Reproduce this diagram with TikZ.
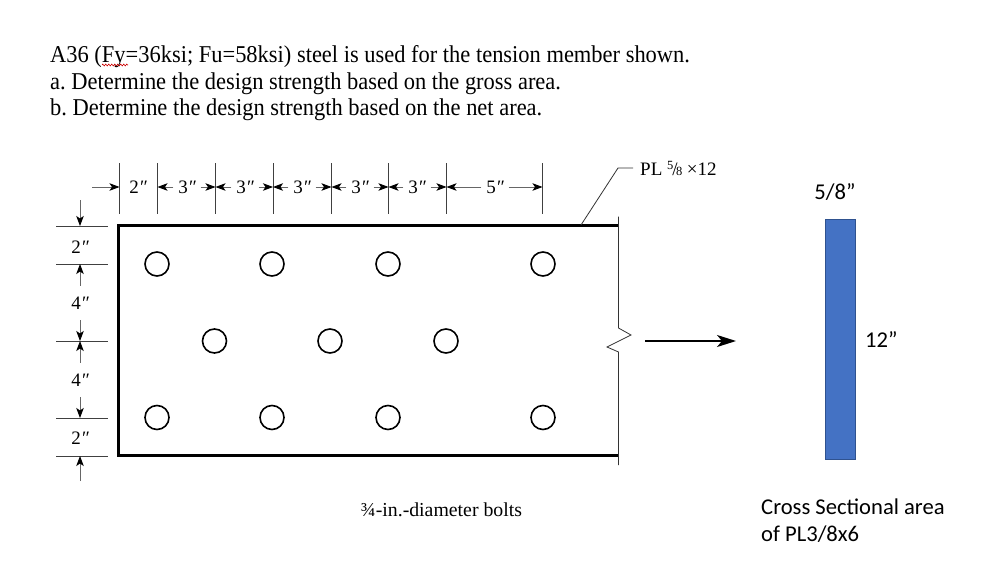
\documentclass[tikz,border=0pt]{standalone}
\usepackage{fontspec}
\usepackage{tikz}
\usetikzlibrary{arrows.meta,decorations.pathmorphing}
\setmainfont{Liberation Serif}
\newfontfamily\slidefont{Carlito}
\newfontfamily\titlefont[FakeStretch=0.93]{Liberation Serif}
\newcommand{\dprime}{{\itshape ″}}
\newcommand{\smallfrac}[2]{\raisebox{5.5pt}{\fontsize{12.5}{13}\selectfont #1}\kern-1pt/\kern-1.5pt{\fontsize{12.5}{13}\selectfont #2}}
\tikzset{
  dimline/.style={line width=0.9pt,black!75},
  dimarrow/.style={line width=0.9pt,black!60,-{Stealth[black,length=10pt,width=7.5pt,inset=2.5pt]}},
  hole/.style={draw,circle,line width=1.6pt,minimum size=24pt,inner sep=0pt},
  dimlabel/.style={inner sep=0pt,minimum width=27pt,minimum height=34pt,font=\fontsize{19}{20}\selectfont},
  titleline/.style={anchor=base west,inner sep=0pt,font=\titlefont\fontsize{24.15}{26}\selectfont},
  slidetext/.style={inner sep=0pt,font=\slidefont\fontsize{22.6}{24}\selectfont},
}
\begin{document}
\begin{tikzpicture}[x=1pt,y=-1pt]
\frenchspacing
\useasboundingbox (0,0) rectangle (987,562);
\node[titleline] (line1) at (50,62) {A36 (Fy=36ksi; Fu=58ksi) steel is used for the tension member shown.};
\node[titleline] (line2) at (50,89) {a. Determine the design strength based on the gross area.};
\node[titleline] (line3) at (50,115) {b. Determine the design strength based on the net area.};
\draw[red!80!black,line width=0.6pt,decorate,decoration={zigzag,segment length=3pt,amplitude=0.9pt}] (102,65)--(128,65);
% plate
\coordinate (nw) at (118,225);
\coordinate (ne) at (618.5,225);
\coordinate (sw) at (118,455);
\coordinate (se) at (618.5,455);
\draw[line width=3pt,line cap=butt] (ne)--(nw)--(sw)--(se);
\draw[line width=0.8pt,black!80] (618.5,216.5)--(618.5,328)--(631,335)--(607,347)--(618.5,352)--(618.5,465);
% holes
\foreach \x/\name in {157/a,272/b,388/c,543/d}{
  \node[hole] (top\name) at (\x,264) {};
  \node[hole] (bot\name) at (\x,417.5) {};
}
\foreach \x/\name in {214.5/a,330/b,446/c}{
  \node[hole] (mid\name) at (\x,341) {};
}
% top dimensions
\foreach \x/\name in {119.5/0,157.5/1,215.5/2,273/3,331.5/4,388.5/5,446.5/6,542.5/7}{
  \coordinate (up\name) at (\x,163);
  \coordinate (low\name) at (\x,214);
  \coordinate (tip\name) at (\x,187);
  \draw[dimline] (up\name)--(low\name);
}
\node[dimlabel] (w1) at (138,187) {2\dprime};
\coordinate (w1tail) at (92,187);
\draw[dimarrow] (w1tail)--(tip0);
\node[dimlabel] (w2) at (187,187) {3\dprime};
\node[dimlabel] (w3) at (245,187) {3\dprime};
\node[dimlabel] (w4) at (302,187) {3\dprime};
\node[dimlabel] (w5) at (360,187) {3\dprime};
\node[dimlabel] (w6) at (417,187) {3\dprime};
\node[dimlabel] (w7) at (495,187) {5\dprime};
\draw[dimarrow] (w2)--(tip1);
\draw[dimarrow] (w2)--(tip2);
\draw[dimarrow] (w3)--(tip2);
\draw[dimarrow] (w3)--(tip3);
\draw[dimarrow] (w4)--(tip3);
\draw[dimarrow] (w4)--(tip4);
\draw[dimarrow] (w5)--(tip4);
\draw[dimarrow] (w5)--(tip5);
\draw[dimarrow] (w6)--(tip5);
\draw[dimarrow] (w6)--(tip6);
\draw[dimarrow] (w7)--(tip6);
\draw[dimarrow] (w7)--(tip7);
% left dimensions
\foreach \y/\name in {226/0,264/1,341/2,418/3,456/4}{
  \coordinate (lft\name) at (56,\y);
  \coordinate (rgt\name) at (107.5,\y);
  \coordinate (end\name) at (80,\y);
  \draw[dimline] (lft\name)--(rgt\name);
}
\node[dimlabel] (h1) at (80,247) {2\dprime};
\node[dimlabel] (h2) at (80,303) {4\dprime};
\node[dimlabel] (h3) at (80,380) {4\dprime};
\node[dimlabel] (h4) at (80,438) {2\dprime};
\coordinate (h1tail) at (80,200);
\coordinate (h4tail) at (80,481);
\draw[dimarrow] (h1tail)--(end0);
\draw[dimarrow] (h2)--(end1);
\draw[dimarrow] (h2)--(end2);
\draw[dimarrow] (h3)--(end2);
\draw[dimarrow] (h3)--(end3);
\draw[dimarrow] (h4tail)--(end4);
% leader and notes
\node[anchor=base west,inner ysep=0pt,inner xsep=7pt,font=\fontsize{19}{20}\selectfont] (plate) at (633,175) {PL \smallfrac{5}{8}\kern4.5pt×12};
\coordinate (lead) at (581,225);
\coordinate (knee) at (618,168);
\draw[line width=0.8pt,black!80] (lead)--(knee)--(plate.west|-knee);
\node[inner sep=0pt,font=\fontsize{19.8}{20}\selectfont] (bolts) at (441.5,510) {¾-in.-diameter bolts};
% load arrow
\coordinate (loadtail) at (645,341);
\coordinate (loadtip) at (736,341);
\draw[line width=1.5pt,-{Stealth[length=19pt,width=12pt,inset=5pt]}] (loadtail)--(loadtip);
% cross section
\node[draw={rgb,255:red,47;green,82;blue,143},fill={rgb,255:red,68;green,114;blue,196},line width=0.8pt,minimum width=30.5pt,minimum height=240.5pt,inner sep=0pt] (section) at (840.5,339.5) {};
\node[slidetext] (thick) at (835,192) {5/8”};
\node[slidetext,anchor=west] (depth) at (865,340) {12”};
\node[slidetext,anchor=base west] (note1) at (761,514) {Cross Sectional area};
\node[slidetext,anchor=base west] (note2) at (761,541) {of PL3/8x6};
\end{tikzpicture}
\end{document}
